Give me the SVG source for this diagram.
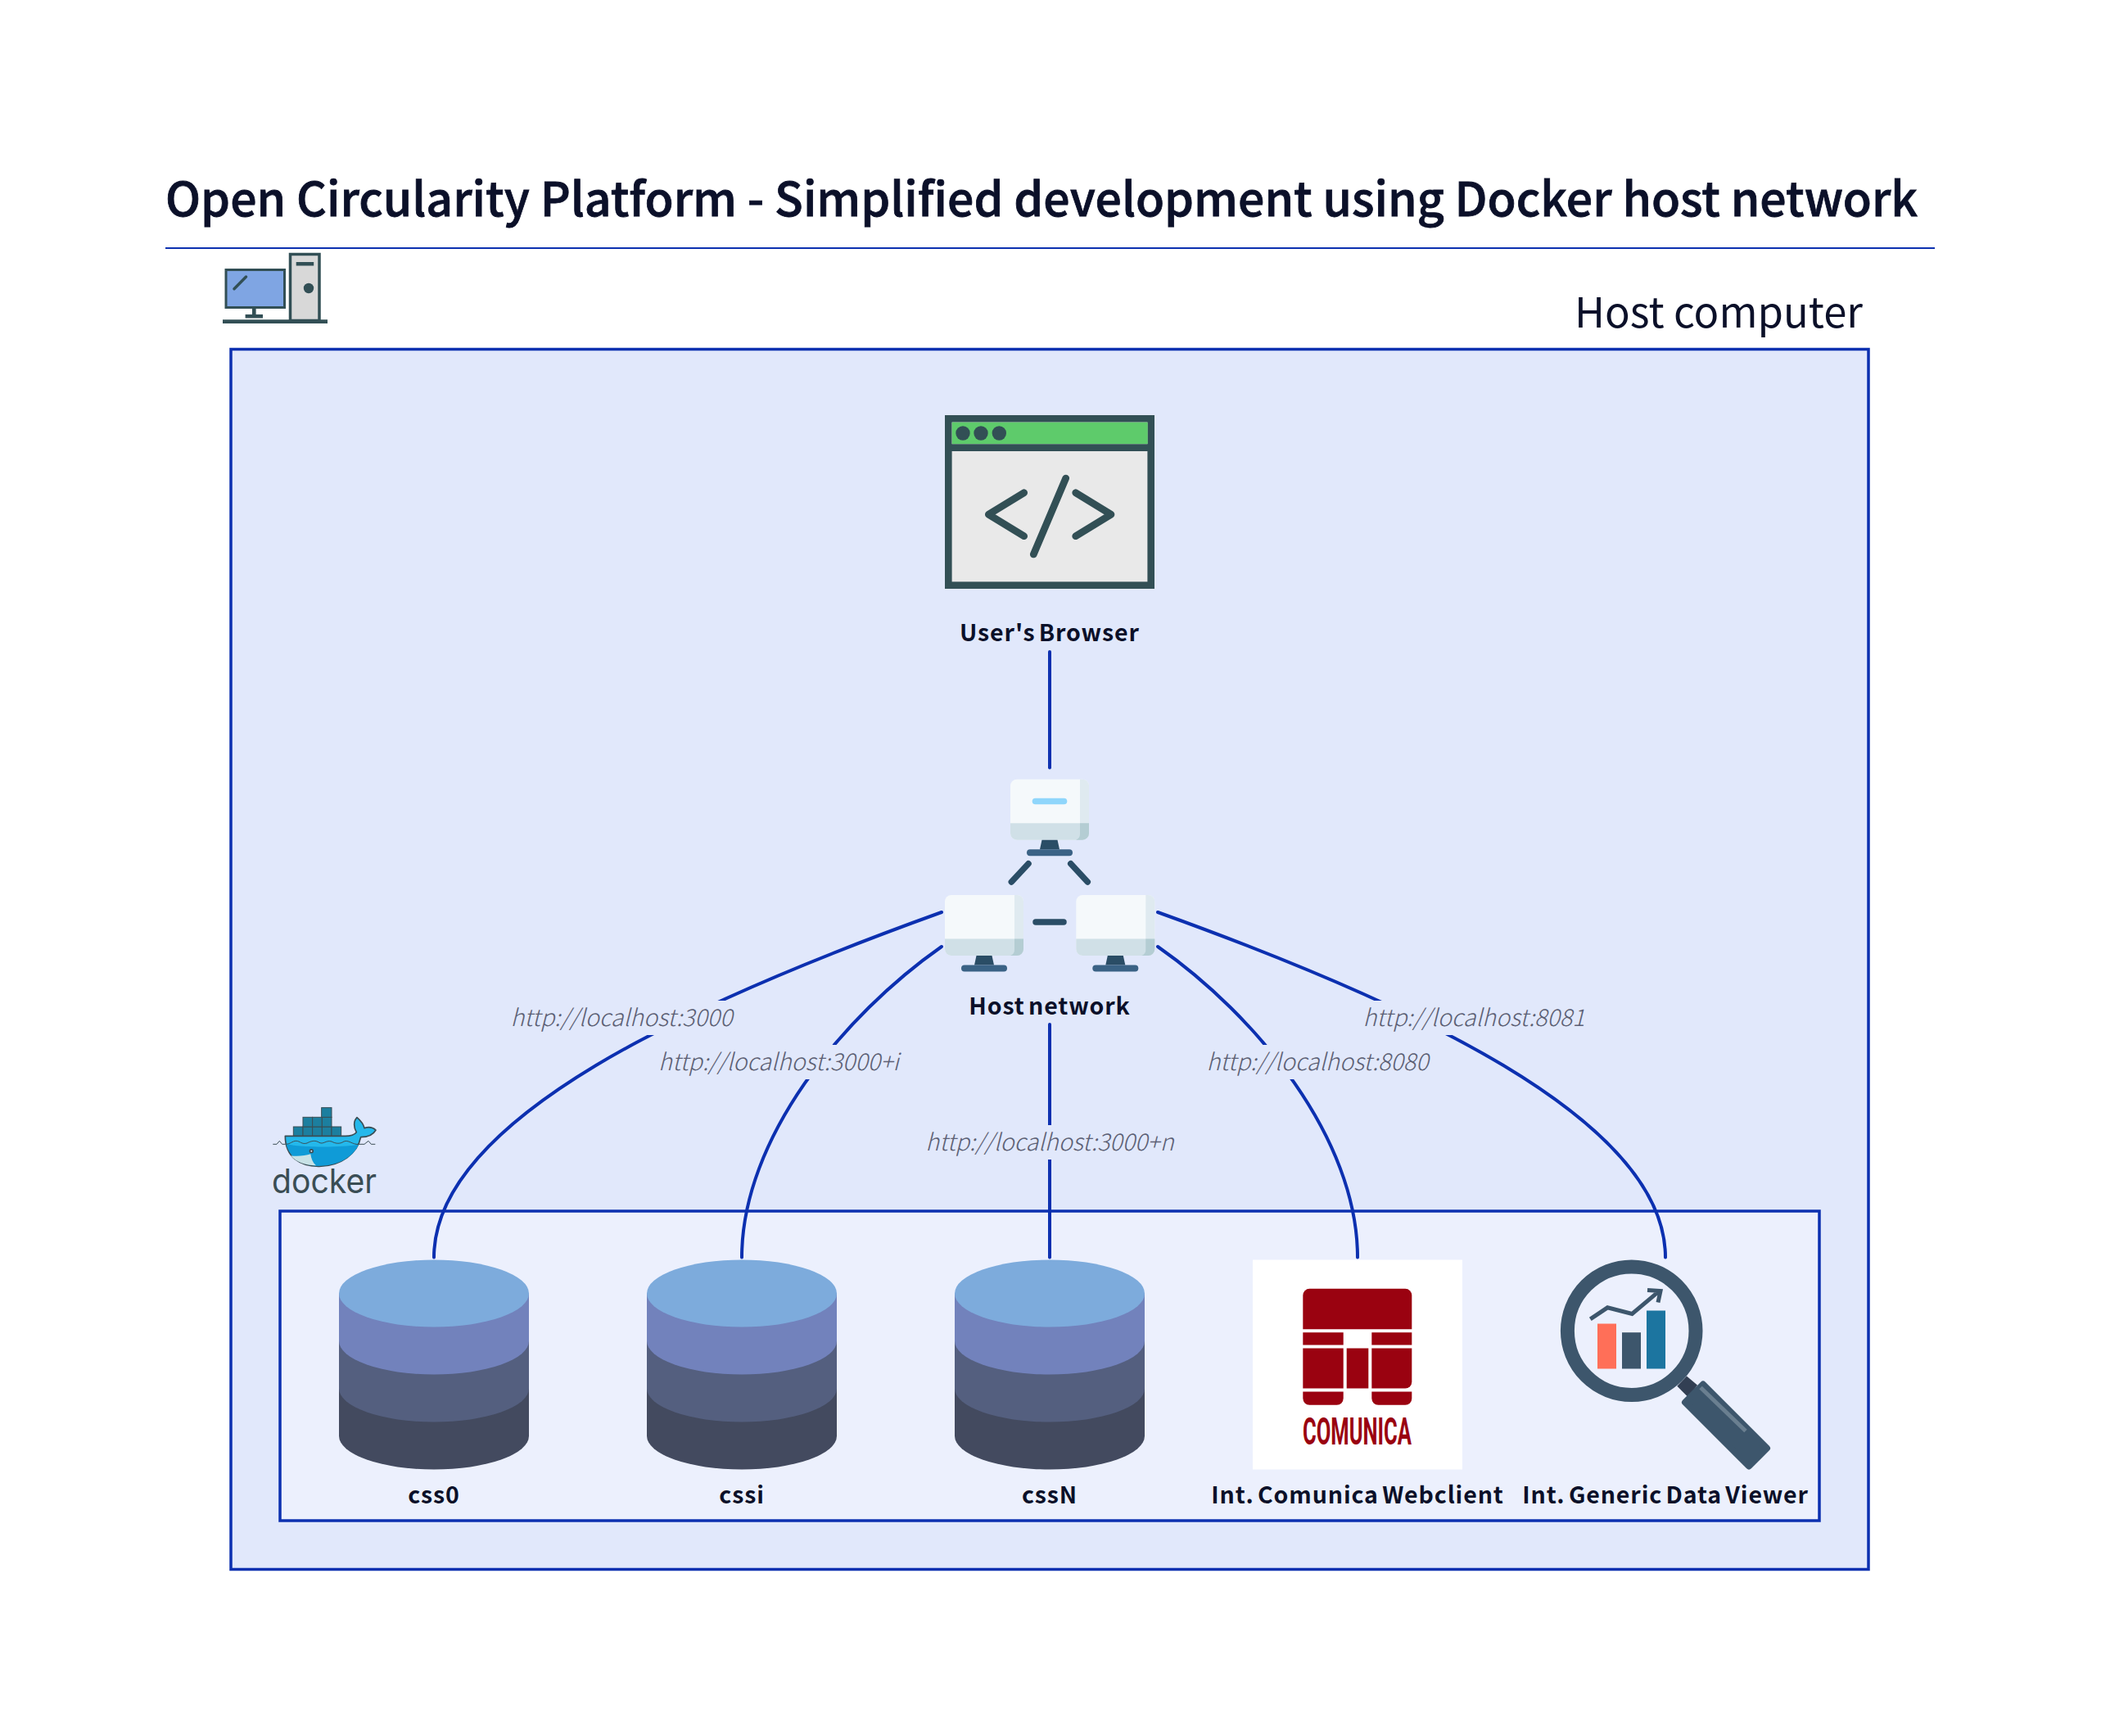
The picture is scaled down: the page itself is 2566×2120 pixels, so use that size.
<svg xmlns="http://www.w3.org/2000/svg" width="2566" height="2120" viewBox="0 0 2566 2120">
<style>
text{font-family:"Noto Sans CJK SC","Source Sans Pro","Noto Sans",sans-serif;fill:#0b1029}
.t{font-size:57.200px;font-weight:500;stroke:#0b1029;stroke-width:.8px}
.n{font-size:28.500px;font-weight:700;text-anchor:middle;letter-spacing:.9px;word-spacing:-3px}
.e{font-size:28.700px;font-weight:300;font-style:italic;fill:#5c6074;text-anchor:middle}
.c{fill:none;stroke:#0c30b0;stroke-width:4;stroke-linecap:round}
.b{fill:#e1e8fb}
.k{fill:none;stroke:#2a4d66;stroke-width:7.500;stroke-linecap:round}
.d{fill:#324f55}
.h{fill:none;stroke:#324f55;stroke-width:8.700;stroke-linecap:round;stroke-linejoin:round}
.ct{fill:#1c7f9f;stroke:#3a4d54;stroke-width:3}
</style>
<defs>
<g id="monitor">
<path d="M8 0H88a8 8 0 0 1 8 8V66a8 8 0 0 1-8 8H8a8 8 0 0 1-8-8V8a8 8 0 0 1 8-8z" fill="#f5f9fb"/>
<path d="M85 0h3a8 8 0 0 1 8 8V53.500H85z" fill="#dfeaf0"/>
<path d="M0 53.500H96V66a8 8 0 0 1-8 8H8a8 8 0 0 1-8-8z" fill="#d0e0e7"/>
<path d="M85 53.500H96V66a8 8 0 0 1-8 8H80a8 8 0 0 0 5-8z" fill="#b4cdd3"/>
<path d="M38.500 74H57.500L60 85.500H36z" fill="#2a4d66"/>
<rect x="20" y="85.500" width="56" height="8" rx="4" fill="#3a6285"/>
</g>
<g id="cyl">
<path d="M-116 0V174A116 41 0 0 0 116 174V0z" fill="#434a5f"/>
<path d="M-116 0V116A116 41 0 0 0 116 116V0z" fill="#545f7f"/>
<path d="M-116 0V58A116 41 0 0 0 116 58V0z" fill="#7282bc"/>
<ellipse rx="116" ry="41" fill="#7dabdc"/>
</g>
</defs>
<g id="title">
<text class="t" x="202" y="264">Open Circularity Platform - Simplified development using Docker host network</text>
<rect x="202" y="302" width="2161" height="2" fill="#0c30b0"/>
</g>
<g id="host-computer">
<g id="host-computer-icon">
<rect x="276" y="329.500" width="71.500" height="46" fill="#7fa5e3" stroke="#324f55" stroke-width="3"/>
<path d="M300.500 338 286 352.700" fill="none" stroke="#324f55" stroke-width="3.500" stroke-linecap="round"/>
<rect x="308" y="377" width="4.600" height="8" class="d"/>
<rect x="299.600" y="384" width="21.400" height="4.500" class="d"/>
<rect x="354.500" y="310.500" width="35.500" height="81" fill="#d8d8d8" stroke="#324f55" stroke-width="3.500"/>
<rect x="361.700" y="320" width="21.500" height="4.500" class="d"/>
<circle cx="377" cy="352" r="6.200" class="d"/>
<rect x="272" y="390.300" width="128" height="4.700" class="d"/>
</g>
<rect x="282" y="426.500" width="2000" height="1490" fill="#e1e8fb" stroke="#0c30b0" stroke-width="3.500"/>
<text x="2275" y="400" text-anchor="end" font-size="50.800">Host computer</text>
</g>
<g id="docker-network">
<rect x="342" y="1479" width="1880" height="378" fill="#ecf0fd" stroke="#0c30b0" stroke-width="3.500"/>
<g id="docker-logo" transform="translate(310 1330) scale(.3333)">
<g class="ct">
<rect x="145" y="138" width="35" height="35"/><rect x="180" y="138" width="35" height="35"/><rect x="215" y="138" width="35" height="35"/><rect x="250" y="138" width="35" height="35"/><rect x="285" y="138" width="35" height="35"/>
<rect x="180" y="103" width="35" height="35"/><rect x="215" y="103" width="35" height="35"/><rect x="250" y="103" width="35" height="35"/>
<rect x="248" y="68" width="37" height="35"/>
</g>
<path d="M115 172H335C355 172 368 168 376 158C366 140 364 118 378 104C392 116 402 130 405 143C420 138 436 140 447 150C436 170 412 176 392 176C380 235 320 282 240 283C170 284 115 250 115 172Z" fill="#24b8eb" stroke="#3a4d54" stroke-width="5" stroke-linejoin="round"/>
<path d="M118 200C150 212 300 216 384 204C362 250 310 281 240 281C180 281 130 250 118 200Z" fill="#0f9bd7"/>
<path d="M135 244C160 248 190 244 208 238C210 255 216 270 228 280C190 280 155 268 135 244Z" fill="#c8e2e6"/>
<circle cx="211" cy="227" r="8" fill="#3a4d54"/><circle cx="211" cy="227" r="3" fill="#e1e8fb"/>
<path d="M70 202H84L94 190L104 202H115C135 202 140 190 155 190C170 190 175 204 195 198C210 190 225 186 240 196C255 204 265 186 285 192C300 200 315 202 330 192C345 186 355 198 375 202H405L420 190L430 202H445" fill="none" stroke="#3a4d54" stroke-width="3"/>
</g>
<text x="332" y="1457" style="font-family:Inter,'Noto Sans',sans-serif;fill:#3a4d54;font-weight:400" font-size="41" textLength="128" lengthAdjust="spacingAndGlyphs">docker</text>
</g>
<g id="connectors">
<path class="c" d="M1282 796V937.500"/>
<path class="c" d="M530 1535.500C530 1365 850 1222 1150 1114"/>
<path class="c" d="M906 1535.500C906 1390 1030 1240 1150 1156"/>
<path class="c" d="M1282 1251V1535.500"/>
<path class="c" d="M1658 1535.500C1658 1390 1534 1240 1414 1156"/>
<path class="c" d="M2034 1535.500C2034 1365 1714 1222 1414 1114"/>
</g>
<g id="edge-labels">
<g><rect class="b" x="623" y="1222" width="274" height="42"/><text class="e" x="759" y="1253">http://localhost:3000</text></g>
<g><rect class="b" x="803" y="1276" width="298" height="42"/><text class="e" x="951" y="1307">http://localhost:3000+i</text></g>
<g><rect class="b" x="1130" y="1374" width="304" height="42"/><text class="e" x="1282" y="1405">http://localhost:3000+n</text></g>
<g><rect class="b" x="1472" y="1276" width="275" height="42"/><text class="e" x="1609" y="1307">http://localhost:8080</text></g>
<g><rect class="b" x="1663" y="1222" width="274" height="42"/><text class="e" x="1800" y="1253">http://localhost:8081</text></g>
</g>
<g id="users-browser">
<g transform="translate(0 -1)">
<rect x="1158.300" y="512.300" width="247.400" height="203.400" fill="#e9e9e9" stroke="#324f55" stroke-width="8.600"/>
<rect x="1162.700" y="516.700" width="239" height="26.600" fill="#5ecb6b"/>
<rect x="1162" y="543.300" width="240" height="8.700" class="d"/>
<circle cx="1176" cy="530" r="8.700" class="d"/><circle cx="1198" cy="530" r="8.700" class="d"/><circle cx="1220.300" cy="530" r="8.700" class="d"/>
<path class="h" d="M1250.700 602.700 1207.300 629.300 1250.700 655.700"/>
<path class="h" d="M1313.700 602.700 1357 629.300 1313.700 655.700"/>
<path class="h" d="M1301.700 585 1262.300 678"/>
</g>
<text class="n" x="1282" y="783">User's Browser</text>
</g>
<g id="host-network">
<g transform="translate(0 -1)">
<use href="#monitor" x="1234" y="952.700"/>
<rect x="1260.700" y="975.700" width="42.600" height="7.600" rx="3.800" fill="#8fd6fb"/>
<use href="#monitor" x="1154" y="1094"/>
<use href="#monitor" x="1314.300" y="1094"/>
<path class="k" d="M1256 1055.700 1235.300 1078M1307.700 1055.700 1328.300 1078M1265 1127H1299"/>
</g>
<text class="n" x="1282" y="1239">Host network</text>
</g>
<g id="css0"><use href="#cyl" x="530" y="1579.500"/><text class="n" x="530" y="1836">css0</text></g>
<g id="cssi"><use href="#cyl" x="906" y="1579.500"/><text class="n" x="906" y="1836">cssi</text></g>
<g id="cssN"><use href="#cyl" x="1282" y="1579.500"/><text class="n" x="1282" y="1836">cssN</text></g>
<g id="comunica">
<g transform="translate(0 -1.500)">
<rect x="1530" y="1540" width="256" height="256" fill="#fff"/>
<g fill="#9a0210">
<path d="M1599.300 1575.300H1716.300a8 8 0 0 1 8 8V1624.700H1591.300V1583.300a8 8 0 0 1 8-8z"/>
<rect x="1591.300" y="1628.700" width="49.400" height="15.300"/>
<rect x="1675.300" y="1628.700" width="49" height="15.300"/>
<rect x="1591.300" y="1648" width="49.400" height="49"/>
<rect x="1644.700" y="1648" width="26.600" height="49"/>
<path d="M1675.300 1648H1724.300V1689a8 8 0 0 1-8 8H1675.300z"/>
<path d="M1591.300 1701H1640.700V1709.300a8 8 0 0 1-8 8H1599.300a8 8 0 0 1-8-8z"/>
<path d="M1675.300 1701H1724.300V1709.300a8 8 0 0 1-8 8H1683.300a8 8 0 0 1-8-8z"/>
</g>
<text x="1591" y="1765" style="font-family:Roboto,'Liberation Sans',sans-serif;fill:#9a0210" font-size="46" font-weight="700" textLength="133" lengthAdjust="spacingAndGlyphs">COMUNICA</text>
</g>
<text class="n" x="1658" y="1836">Int. Comunica Webclient</text>
</g>
<g id="generic-data-viewer">
<g transform="translate(0 -1.500)">
<path d="M2060 1682 2048.300 1694.300 2062 1708 2073 1693z" fill="#323f53"/>
<circle cx="1992.700" cy="1626.700" r="78.300" fill="none" stroke="#3d566c" stroke-width="17"/>
<path d="M2080 1692 2158 1770 2136 1792 2058 1714z" fill="#3d566c" stroke="#3d566c" stroke-width="8" stroke-linejoin="round"/>
<path d="M2077 1696 2132 1749" stroke="#6a7f90" stroke-width="5" fill="none"/>
<rect x="1951" y="1618" width="23" height="55" fill="#ff6f58"/>
<rect x="1981" y="1628.700" width="23" height="44.300" fill="#3d566c"/>
<rect x="2011" y="1602" width="23" height="71" fill="#1c75a0"/>
<path d="M1942.300 1612.300 1963.300 1598.300 1993.300 1606 2025 1579.300M2012 1577 2028 1578 2025 1592" fill="none" stroke="#3d566c" stroke-width="5"/>
</g>
<text class="n" x="2034" y="1836">Int. Generic Data Viewer</text>
</g>
</svg>
